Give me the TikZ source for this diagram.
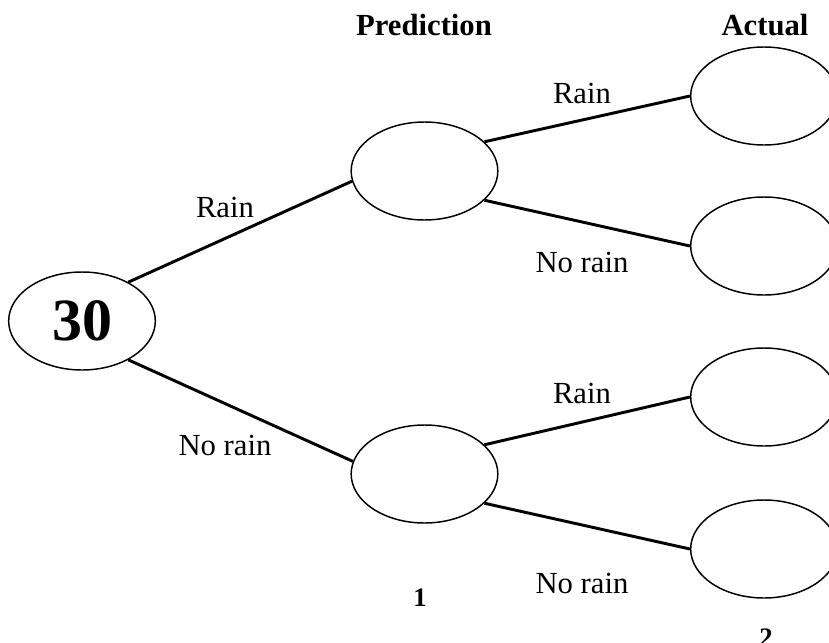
\documentclass[tikz,border=0pt]{standalone}
\usepackage{fontspec}
\setmainfont{Liberation Serif}
\usetikzlibrary{arrows.meta, positioning, shapes.geometric}

\begin{document}
\begin{tikzpicture}[x=0.75pt, y=-0.75pt,
    oval/.style={draw, ellipse, line width=1.1pt, minimum width=110pt, minimum height=73.5pt, inner sep=0pt},
    branch/.style={line width=2.2pt},
    lbl/.style={font=\fontsize{23}{28}\selectfont},
    head/.style={font=\fontsize{23}{28}\selectfont\bfseries}]
\useasboundingbox (0,0) rectangle (829,643);
% column headings
\node[head] (hpred) at (424,25) {Prediction};
\node[head] (hact) at (765,25) {Actual};
% the tree: start, predictions, actual outcomes
\node[oval, font=\fontsize{45}{50}\selectfont\bfseries] (root) at (82,321) {30};
\node[oval] (prain) at (424.5,171) {};
\node[oval] (pnorain) at (424.5,474) {};
\node[oval] (a1) at (764,96) {};
\node[oval] (a2) at (764,246) {};
\node[oval] (a3) at (764,397) {};
\node[oval] (a4) at (764,549) {};
\draw[branch] (root.40) -- (prain.188);
\draw[branch] (root.-40) -- (pnorain.170);
\foreach \p/\u/\l in {prain/a1/a2, pnorain/a3/a4} {
    \draw[branch] (\p.26) -- (\u.180);
    \draw[branch] (\p.-26) -- (\l.180);
}
% branch labels
\node[lbl] (l1) at (225,207) {Rain};
\node[lbl] (l2) at (225,445) {No rain};
\node[lbl] (l3) at (582,93) {Rain};
\node[lbl] (l4) at (582,262) {No rain};
\node[lbl] (l5) at (582,393) {Rain};
\node[lbl] (l6) at (582,583) {No rain};
% column numbers
\node[head, font=\fontsize{20}{24}\selectfont\bfseries] (n1) at (420,598) {1};
\node[head, font=\fontsize{20}{24}\selectfont\bfseries] (n2) at (766,638) {2};
\end{tikzpicture}
\end{document}
